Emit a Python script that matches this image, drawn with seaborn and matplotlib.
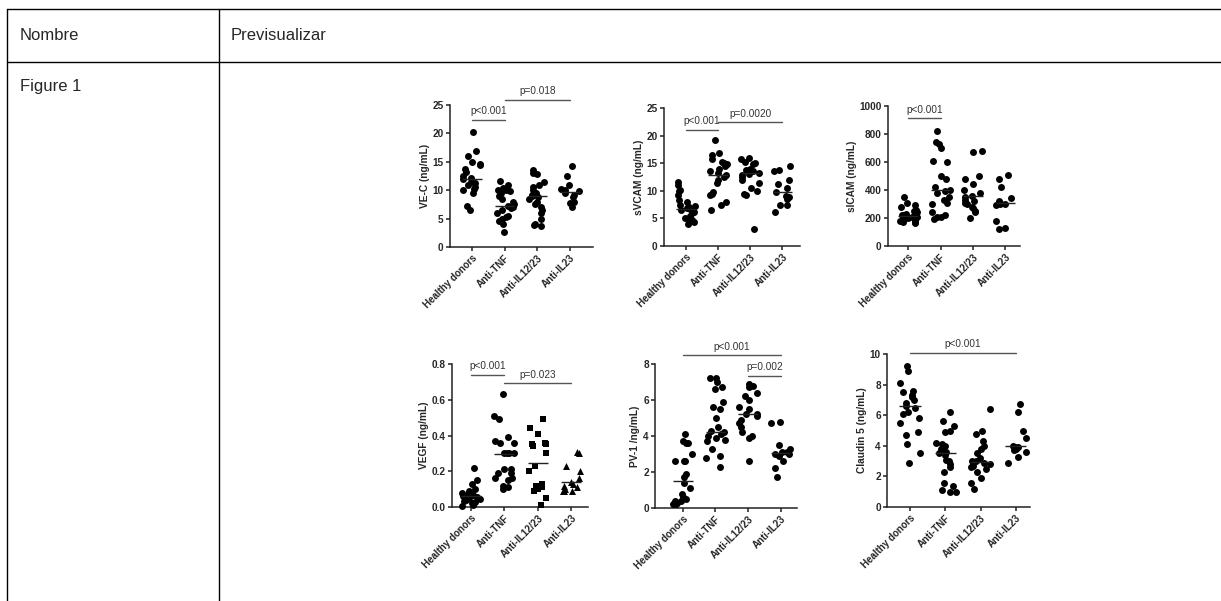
import numpy as np
import pandas as pd
import matplotlib
matplotlib.use("Agg")
import matplotlib.pyplot as plt
from matplotlib.lines import Line2D
import seaborn as sns

# groups on every x axis
groups = ['Healthy donors', 'Anti-TNF', 'Anti-IL12/23', 'Anti-IL23']

# VE-C (ng/mL)
vec_hd = [20.2, 16.9, 16.0, 15.0, 14.7, 14.5, 13.8, 13.2, 12.5, 12.2, 12.0, 11.5, 11.2, 11.0, 10.5, 10.2, 10.0, 9.5, 7.3, 6.5]
vec_tnf = [11.7, 11.0, 10.3, 10.1, 10.0, 9.8, 9.5, 9.0, 8.5, 8.0, 7.5, 7.2, 7.0, 6.8, 6.5, 6.0, 5.5, 5.2, 5.0, 4.5, 4.0, 2.6]
vec_il1223 = [13.5, 13.0, 12.8, 11.5, 11.0, 10.5, 10.0, 9.5, 9.2, 9.0, 8.8, 8.5, 8.0, 7.5, 7.0, 6.5, 6.0, 5.0, 4.0, 3.7, 3.8]
vec_il23 = [14.2, 12.5, 10.9, 10.2, 10.0, 9.8, 9.5, 9.2, 8.8, 8.0, 7.8, 7.0]

# sVCAM (ng/mL)
svcam_hd = [11.6, 11.0, 10.2, 10.0, 9.2, 8.3, 8.0, 7.5, 7.2, 7.0, 6.8, 6.7, 6.5, 6.2, 6.0, 5.5, 5.0, 4.7, 4.5, 4.4, 4.3, 3.9]
svcam_tnf = [19.2, 16.8, 16.5, 15.8, 15.2, 15.0, 14.8, 14.5, 14.0, 13.5, 13.2, 12.8, 12.5, 12.0, 11.5, 9.8, 9.5, 9.2, 8.0, 7.5, 6.5]
svcam_il1223 = [16.0, 15.8, 15.3, 15.0, 14.8, 14.0, 13.8, 13.5, 13.2, 13.0, 12.8, 12.5, 12.0, 11.5, 10.5, 10.0, 9.5, 9.2, 3.1]
svcam_il23 = [14.5, 13.8, 13.5, 12.0, 11.2, 10.5, 9.8, 9.0, 8.8, 8.5, 7.5, 7.5, 6.2]

# sICAM (ng/mL)
sicam_hd = [350, 310, 290, 280, 260, 250, 240, 230, 225, 220, 215, 210, 205, 200, 195, 190, 185, 180, 175, 170, 165]
sicam_tnf = [820, 740, 730, 700, 610, 600, 500, 480, 420, 400, 390, 380, 350, 330, 310, 300, 240, 220, 210, 210, 190]
sicam_il1223 = [680, 670, 500, 480, 440, 400, 380, 360, 350, 330, 320, 310, 300, 280, 270, 250, 240, 200]
sicam_il23 = [510, 480, 420, 340, 320, 310, 300, 300, 290, 180, 130, 120]

# VEGF (ng/mL)
vegf_hd = [0.22, 0.15, 0.13, 0.10, 0.09, 0.08, 0.075, 0.07, 0.065, 0.06, 0.06, 0.055, 0.05, 0.05, 0.045, 0.04, 0.035, 0.03, 0.02, 0.01, 0.005]
vegf_tnf = [0.63, 0.51, 0.49, 0.39, 0.37, 0.36, 0.36, 0.30, 0.30, 0.30, 0.30, 0.21, 0.21, 0.19, 0.19, 0.16, 0.16, 0.15, 0.12, 0.11, 0.10]
vegf_il1223 = [0.49, 0.44, 0.41, 0.36, 0.35, 0.35, 0.34, 0.30, 0.23, 0.20, 0.13, 0.12, 0.11, 0.11, 0.10, 0.10, 0.09, 0.05, 0.01]
vegf_il23 = [0.31, 0.30, 0.23, 0.20, 0.16, 0.14, 0.13, 0.12, 0.11, 0.10, 0.09, 0.09, 0.09]

# PV-1 /ng/mL
pv1_hd = [4.1, 3.7, 3.6, 3.6, 3.0, 2.6, 2.6, 2.6, 1.9, 1.7, 1.4, 1.1, 0.8, 0.6, 0.5, 0.4, 0.4, 0.3, 0.2, 0.2, 0.3]
pv1_tnf = [7.2, 7.2, 7.0, 6.7, 6.6, 5.9, 5.6, 5.5, 5.0, 4.5, 4.3, 4.2, 4.1, 4.0, 3.9, 3.8, 3.7, 3.3, 2.9, 2.8, 2.3]
pv1_il1223 = [6.9, 6.8, 6.7, 6.4, 6.2, 6.0, 5.6, 5.5, 5.2, 5.2, 5.1, 4.9, 4.7, 4.5, 4.2, 4.0, 3.9, 2.6]
pv1_il23 = [4.8, 4.7, 3.5, 3.3, 3.1, 3.1, 3.0, 3.0, 2.9, 2.6, 2.2, 1.7]

# Claudin 5 (ng/mL)
cld_hd = [9.2, 8.9, 8.1, 7.6, 7.5, 7.3, 7.2, 7.0, 6.8, 6.6, 6.5, 6.2, 6.1, 5.8, 5.5, 4.9, 4.7, 4.1, 3.5, 2.9]
cld_tnf = [6.2, 5.6, 5.3, 5.0, 4.9, 4.2, 4.1, 4.0, 3.8, 3.6, 3.5, 3.4, 3.1, 3.0, 2.8, 2.6, 2.3, 1.6, 1.4, 1.1, 1.0, 1.0]
cld_il1223 = [6.4, 5.0, 4.8, 4.3, 4.0, 3.8, 3.5, 3.2, 3.0, 3.0, 2.9, 2.9, 2.8, 2.7, 2.6, 2.5, 2.3, 1.9, 1.6, 1.2]
cld_il23 = [6.7, 6.2, 5.0, 4.5, 4.0, 3.9, 3.9, 3.8, 3.7, 3.6, 3.3, 2.9]

# centre lines
vec_mid = [12.0, 7.3, 9.0, 9.7]
svcam_mid = [6.7, 12.8, 13.2, 9.7]
sicam_mid = [215, 400, 360, 310]
vegf_mid = [0.06, 0.295, 0.245, 0.14]
pv1_mid = [1.5, 4.2, 5.2, 3.05]
cld_mid = [6.6, 3.55, 2.95, 4.0]

# significance bars: (from group, to group, height, label)
vec_sig = [(0, 1, 22.4, 'p<0.001'), (1, 3, 25.9, 'p=0.018')]
svcam_sig = [(0, 1, 21.1, 'p<0.001'), (1, 3, 22.4, 'p=0.0020')]
sicam_sig = [(0, 1, 912, 'p<0.001')]
vegf_sig = [(0, 1, 0.74, 'p<0.001'), (1, 3, 0.693, 'p=0.023')]
pv1_sig = [(0, 3, 8.48, 'p<0.001'), (2, 3, 7.35, 'p=0.002')]
cld_sig = [(0, 3, 10.07, 'p<0.001')]

W, H = 1221, 601
sns.set_theme(style='ticks')
plt.rcParams['font.family'] = ['Liberation Sans', 'DejaVu Sans']
np.random.seed(3)

fig = plt.figure(figsize=(W / 100, H / 100), dpi=100)
fig.patch.set_facecolor('white')

# table frame
line_kw = dict(color='black', lw=1.0)
fig.add_artist(Line2D([7 / W, 1], [1 - 9 / H, 1 - 9 / H], **line_kw))
fig.add_artist(Line2D([7 / W, 1], [1 - 62 / H, 1 - 62 / H], **line_kw))
fig.add_artist(Line2D([7 / W, 7 / W], [1 - 9 / H, 0], **line_kw))
fig.add_artist(Line2D([219 / W, 219 / W], [1 - 9 / H, 0], **line_kw))
fig.text(20 / W, 1 - 36 / H, 'Nombre', fontsize=12, va='center', ha='left')
fig.text(231 / W, 1 - 36 / H, 'Previsualizar', fontsize=12, va='center', ha='left')
fig.text(20 / W, 1 - 86 / H, 'Figure 1', fontsize=12, va='center', ha='left')


def make_df(vals):
    rows = []
    for g, v in zip(groups, vals):
        rows += [(g, x) for x in v]
    return pd.DataFrame(rows, columns=['group', 'value'])


# panel: data, centre lines, sig bars, ylabel, ylim, yticks, box in px (left, top, right, bottom), xlim, markers
panels = [
    ([vec_hd, vec_tnf, vec_il1223, vec_il23], vec_mid, vec_sig, 'VE-C (ng/mL)',
     (0, 25), [0, 5, 10, 15, 20, 25], (450, 105, 593, 247), (-0.67, 3.7), ['o'] * 4),
    ([svcam_hd, svcam_tnf, svcam_il1223, svcam_il23], svcam_mid, svcam_sig, 'sVCAM (ng/mL)',
     (0, 25), [0, 5, 10, 15, 20, 25], (664, 108, 800, 246), (-0.68, 3.55), ['o'] * 4),
    ([sicam_hd, sicam_tnf, sicam_il1223, sicam_il23], sicam_mid, sicam_sig, 'sICAM (ng/mL)',
     (0, 1000), [0, 200, 400, 600, 800, 1000], (888, 106, 1020, 246), (-0.62, 3.45), ['o'] * 4),
    ([vegf_hd, vegf_tnf, vegf_il1223, vegf_il23], vegf_mid, vegf_sig, 'VEGF (ng/mL)',
     (0, 0.8), [0.0, 0.2, 0.4, 0.6, 0.8], (452, 364, 588, 507), (-0.56, 3.5), ['o', 'o', 's', '^']),
    ([pv1_hd, pv1_tnf, pv1_il1223, pv1_il23], pv1_mid, pv1_sig, 'PV-1 /ng/mL)',
     (0, 8), [0, 2, 4, 6, 8], (655, 364, 797, 508), (-0.85, 3.5), ['o'] * 4),
    ([cld_hd, cld_tnf, cld_il1223, cld_il23], cld_mid, cld_sig, 'Claudin 5 (ng/mL)',
     (0, 10), [0, 2, 4, 6, 8, 10], (887, 354, 1030, 507), (-0.65, 3.4), ['o'] * 4),
]

for vals, mids, sigs, ylab, ylim, yticks, box, xlim, marks in panels:
    l, t, r, b = box
    ax = fig.add_axes([l / W, 1 - b / H, (r - l) / W, (b - t) / H])
    df = make_df(vals)
    for g, m in zip(groups, marks):
        sns.stripplot(data=df[df['group'] == g], x='group', y='value', order=groups,
                      color='black', size=5, marker=m, jitter=0.3, linewidth=0,
                      ax=ax, clip_on=False)
    for i, m in enumerate(mids):
        ax.hlines(m, i - 0.3, i + 0.3, color='#222222', lw=1.0, zorder=5)
    for a, c, h, txt in sigs:
        ax.plot([a, c], [h, h], color='#555555', lw=1.0, clip_on=False)
        ax.text((a + c) / 2, h + (ylim[1] - ylim[0]) * 0.025, txt, ha='center', va='bottom',
                fontsize=7.2, color='#333333')
    ax.set_xlim(*xlim)
    ax.set_ylim(*ylim)
    ax.set_yticks(yticks)
    if ylim[1] < 1:
        ax.set_yticklabels([f'{v:.1f}' for v in yticks])
    ax.set_xlabel('')
    ax.set_ylabel(ylab, fontsize=7.3, fontweight='bold', labelpad=2)
    ax.set_xticks(range(4))
    ax.set_xticklabels(groups, rotation=45, ha='right', rotation_mode='anchor',
                       fontsize=7, fontweight='bold')
    for lab in ax.get_yticklabels():
        lab.set_fontweight('bold')
        lab.set_fontsize(7.2)
    ax.tick_params(axis='both', length=3, width=1.1, pad=1.5, color='#222222')
    sns.despine(ax=ax)
    for s in ['left', 'bottom']:
        ax.spines[s].set_linewidth(1.1)
        ax.spines[s].set_color('#222222')
    ax.set_facecolor('none')

fig.savefig('out.png', dpi=100, facecolor='white')
